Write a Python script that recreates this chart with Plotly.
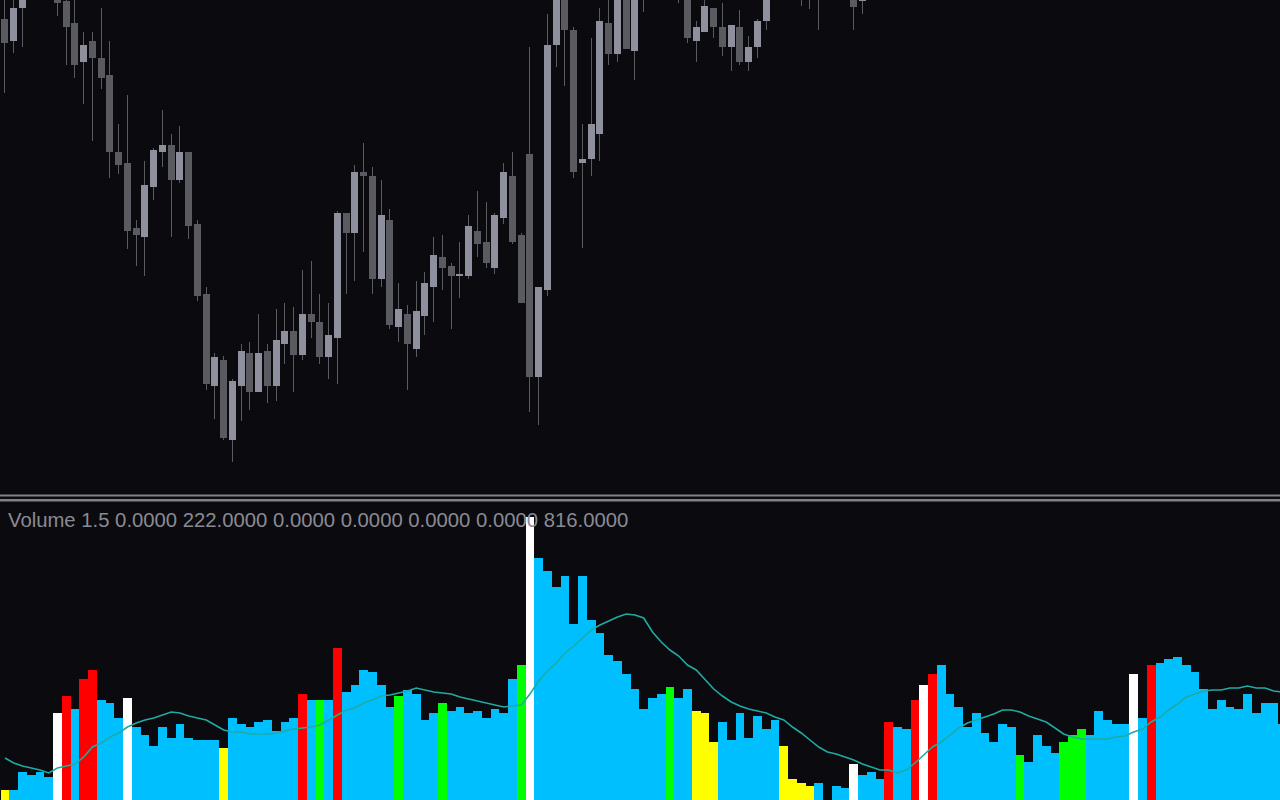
import plotly.graph_objects as go

# ---------------- price data (points; candles fully above the window are None) -------------
open_ = [481, 459, 492, None, None, None, 515, 499, 477, 438,
         459, 442, 425, 348, 337, 272, 263, 313, 348, 355,
         320, 348, 276, 206, 114, 140, 60, 114, 147, 108,
         149, 114, 156, 169, 145, 186, 178, 143, 162, 287,
         267, 328, 324, 221, 280, 173, 186, 151, 184, 213,
         243, 234, 224, 224, 269, 258, 232, 282, 324, 265,
         346, 123, 210, 455, 535, 470, 337, 341, 366, 477,
         446, 525, 449, 525, None, None, None, 530, 515, 459,
         468, 492, 473, 453, 473, 438, 453, 479, None, None,
         None, 540, 530, 538, None, None, None, 520, 499]
high = [510, 505, 530, None, None, None, 520, 508, 505, 468,
        468, 492, 459, 376, 405, 280, 339, 352, 390, 366,
        374, 348, 280, 213, 147, 144, 121, 156, 158, 186,
        156, 191, 197, 193, 230, 239, 206, 197, 289, 287,
        335, 357, 333, 320, 291, 217, 195, 219, 228, 263,
        265, 237, 258, 285, 309, 298, 287, 337, 348, 267,
        453, 213, 486, 545, 550, 473, 376, 462, 492, 510,
        530, 535, 540, 550, None, None, None, 535, 520, 479,
        502, 492, 497, 475, 490, 464, 481, 528, None, None,
        None, 552, 548, 545, None, None, None, 530, 522]
low = [407, 447, 453, None, None, None, 484, 435, 422, 396,
       359, 411, 322, 326, 251, 234, 224, 300, 333, 263,
       317, 261, 199, 110, 81, 60, 38, 79, 90, 108,
       97, 99, 136, 108, 140, 162, 136, 121, 116, 206,
       219, 248, 206, 213, 171, 158, 110, 143, 165, 178,
       210, 171, 202, 221, 243, 232, 226, 276, 256, 197,
       88, 75, 204, 433, 414, 322, 252, 324, 339, 435,
       438, 451, 420, 488, None, None, None, 497, 457, 438,
       468, 462, 444, 429, 435, 429, 442, 470, None, None,
       None, 494, 491, 470, None, None, None, 470, 486]
close = [457, 492, 525, None, None, None, 497, 473, 435, 455,
         442, 422, 348, 335, 269, 265, 315, 350, 355, 320,
         348, 274, 204, 116, 143, 62, 119, 149, 108, 147,
         114, 160, 169, 145, 186, 178, 143, 165, 287, 267,
         328, 324, 221, 285, 175, 191, 156, 189, 217, 245,
         232, 224, 226, 274, 256, 237, 285, 328, 258, 197,
         123, 213, 455, 530, 470, 328, 341, 376, 479, 446,
         520, 451, 530, 540, None, None, None, 512, 462, 473,
         494, 473, 453, 475, 438, 453, 479, 520, None, None,
         None, 530, 538, 526, None, None, None, 493, 515]

# ---------------- volume data ----------------
volume = [160, 160, 340, 310, 340, 290, 930, 1100, 970, 1270,
          1360, 1060, 1030, 880, 1080, 790, 710, 600, 790, 680,
          820, 680, 660, 660, 660, 580, 880, 820, 790, 840,
          860, 750, 840, 880, 1120, 1060, 1060, 1060, 1580, 1140,
          1210, 1360, 1340, 1210, 990, 1100, 1160, 1120, 860, 930,
          1030, 950, 990, 930, 950, 880, 970, 930, 1270, 1410,
          2890, 2480, 2350, 2190, 2300, 1820, 2300, 1860, 1730, 1510,
          1450, 1320, 1170, 970, 1080, 1120, 1190, 1080, 1170, 950,
          930, 640, 840, 660, 930, 680, 900, 770, 860, 600,
          270, 230, 200, 230, 60, 200, 180, 420, 310, 340,
          270, 840, 790, 770, 1060, 1210, 1320, 1410, 1120, 990,
          790, 930, 730, 640, 820, 790, 510, 440, 710, 600,
          530, 640, 710, 770, 710, 950, 860, 820, 820, 1320,
          880, 1410, 1430, 1470, 1490, 1410, 1340, 1170, 970, 1060,
          990, 970, 1120, 930, 1030, 1030, 820]

# volume moving average
volume_ma = [480, 430, 400, 380, 360, 330, 380, 400, 420, 490,
             590, 630, 690, 730, 790, 830, 860, 880, 910, 940,
             930, 900, 880, 860, 810, 760, 740, 740, 720, 720,
             720, 730, 750, 770, 780, 790, 810, 860, 910, 960,
             980, 1030, 1060, 1100, 1110, 1130, 1150, 1180, 1160, 1140,
             1130, 1120, 1090, 1070, 1050, 1030, 1010, 990, 1000, 1010,
             1120, 1250, 1350, 1430, 1530, 1600, 1680, 1760, 1810, 1850,
             1890, 1920, 1910, 1880, 1740, 1640, 1560, 1500, 1410, 1360,
             1260, 1170, 1100, 1040, 1000, 970, 950, 930, 890, 860,
             790, 730, 660, 590, 540, 520, 490, 460, 420, 390,
             360, 360, 330, 360, 430, 510, 590, 640, 710, 780,
             830, 860, 890, 920, 960, 960, 940, 900, 870, 840,
             780, 720, 690, 670, 670, 670, 670, 690, 700, 740,
             770, 840, 890, 960, 1020, 1090, 1120, 1150, 1160, 1160,
             1180, 1180, 1200, 1180, 1180, 1150, 1140]

# volume bar classification: N normal, R red, W white, G green, Y yellow
bar_type = list(
    "Y" "NNNNN" "W" "R" "N" "RR" "NNN" "W" "NNNNNNNNNN" "Y"
    "NNNNNNNN" "R" "N" "G" "N" "R" "NNNNNN" "G" "NNNN" "G"
    "NNNNNNNN" "G" "W" "NNNNNNNNNNNNNNN" "G" "NN" "YYY"
    "NNNNNNN" "YYYY" "NNNN" "W" "NNN" "R" "NN" "R" "W" "R"
    "NNNNNNNNN" "G" "NNNN" "GGG" "NNNNN" "W" "N" "R"
    "NNNNNNNNNNNNNNN"
)

label = "Volume 1.5 0.0000 222.0000 0.0000 0.0000 0.0000 0.0000 816.0000"

# ---------------- styling ----------------
BG = "#0a0a0f"
BULL = "#8e909e"
BEAR = "#5a5b60"
WICK = "rgba(90,91,96,0.999)"
TYPE_COLORS = {"N": "#00bfff", "R": "#ff0000", "W": "#ffffff",
               "G": "#00ff00", "Y": "#ffff00"}
PX = 8.75  # pixels per bar

n_c = len(open_)
cx = list(range(n_c))
wick_base = [l if l is not None else None for l in low]
wick_len = [(h - l) if h is not None else None for h, l in zip(high, low)]
body_base = [min(o, c) if o is not None else None for o, c in zip(open_, close)]
body_len = [max(abs(c - o), 1) if o is not None else None for o, c in zip(open_, close)]
body_col = [(BULL if (c is not None and c >= o) else BEAR) if o is not None else BEAR
            for o, c in zip(open_, close)]

vx = list(range(len(volume)))
vcol = [TYPE_COLORS[t] for t in bar_type[:len(volume)]]

fig = go.Figure()

# volume histogram
fig.add_trace(go.Bar(x=vx, y=volume, width=1.0, marker=dict(color=vcol, line=dict(width=0)),
                     yaxis="y2", hoverinfo="skip"))
fig.add_trace(go.Scatter(x=vx, y=volume_ma, mode="lines", yaxis="y2",
                         line=dict(color="#20aaa0", width=1.6), hoverinfo="skip"))

# candles: wicks then bodies
fig.add_trace(go.Bar(x=cx, y=wick_len, base=wick_base, width=1.0 / PX,
                     marker=dict(color=WICK, line=dict(width=0)), yaxis="y", hoverinfo="skip"))
fig.add_trace(go.Bar(x=cx, y=body_len, base=body_base, width=0.8,
                     marker=dict(color=body_col, line=dict(width=0)), yaxis="y", hoverinfo="skip"))

H = 800.0
fig.update_layout(
    width=1280, height=800,
    margin=dict(l=0, r=0, t=0, b=0),
    paper_bgcolor=BG, plot_bgcolor=BG,
    showlegend=False, barmode="overlay", bargap=0, bargroupgap=0,
    xaxis=dict(range=[-4.975 / PX, (1280 - 4.975) / PX], visible=False, fixedrange=True),
    yaxis=dict(domain=[306 / H, 1], range=[6, 500], visible=False, fixedrange=True),
    yaxis2=dict(domain=[0, 299 / H], range=[60, 3050], visible=False, fixedrange=True),
    shapes=[
        dict(type="rect", xref="paper", yref="paper", x0=0, x1=1,
             y0=1 - 496.5 / H, y1=1 - 494.5 / H, fillcolor="#808088", line=dict(width=0), layer="above"),
        dict(type="rect", xref="paper", yref="paper", x0=0, x1=1,
             y0=1 - 501.5 / H, y1=1 - 499 / H, fillcolor="#808088", line=dict(width=0), layer="above"),
    ],
    annotations=[dict(text=label, xref="paper", yref="paper", x=6 / 1280, y=1 - 519.5 / H,
                      xanchor="left", yanchor="middle", showarrow=False,
                      font=dict(family="Liberation Sans", size=20.3, color="#8a8a94"))],
)

fig.write_html("out.html", config={"displayModeBar": False},
               post_script="document.body.style.margin='0';document.body.style.background='#0a0a0f';")
